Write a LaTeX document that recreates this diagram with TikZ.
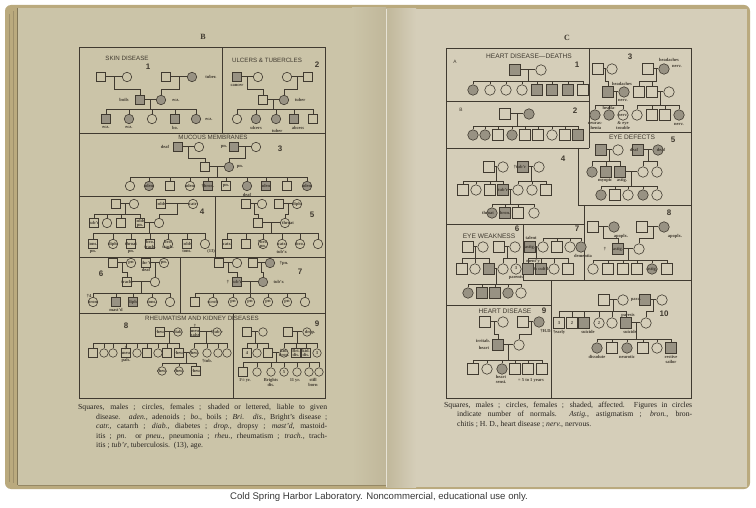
\documentclass[tikz,border=0pt]{standalone}
\usepackage{fontspec}
\setmainfont{Liberation Serif}
\setsansfont{Liberation Sans}
\usetikzlibrary{calc}
\definecolor{paperL}{RGB}{203,196,168}
\definecolor{paperR}{RGB}{213,206,185}
\definecolor{edgeC}{RGB}{186,170,126}
\definecolor{gutterC}{RGB}{192,183,154}
\definecolor{ink}{RGB}{64,58,48}
\definecolor{shadeC}{RGB}{152,146,131}
\definecolor{capink}{RGB}{40,36,32}
\tikzset{
 ln/.style={draw=ink, line width=0.6pt},
 mar/.style={draw=ink, line width=0.4pt, double=paperL, double distance=0.7pt},
 sq/.style={draw=ink, line width=0.6pt, fill=paperL, rectangle, minimum size=9.5pt, inner sep=0pt},
 ci/.style={draw=ink, line width=0.6pt, fill=paperL, circle, minimum size=9.5pt, inner sep=0pt},
 lbl/.style={font=\bfseries\fontsize{4.5}{4.8}\selectfont, text=ink, inner sep=0pt, align=center},
 ttl/.style={font=\sffamily\fontsize{6.2}{7}\selectfont, text=ink, inner sep=0pt},
 numtxt/.style={font=\sffamily\bfseries\fontsize{8}{9}\selectfont, text=ink, inner sep=0pt},
 frm/.style={draw=ink, line width=0.7pt},
 captxt/.style={font=\fontsize{7.7}{8}\selectfont, text=capink, inner sep=0pt, anchor=west},
}
\newcommand\Sq[3]{\node[sq] (#1) at (#2,#3) {};}
\newcommand\SQ[3]{\node[sq,fill=shadeC] (#1) at (#2,#3) {};}
\newcommand\Ci[3]{\node[ci] (#1) at (#2,#3) {};}
\newcommand\CI[3]{\node[ci,fill=shadeC] (#1) at (#2,#3) {};}
\newcommand\Lb[4]{\node[lbl] (#1) at (#2,#3) {#4};}
\newcommand\famline[4]{%
 \coordinate (#1#2y) at (0,#3);
 \coordinate (#1#2m) at ($(#1.east)!0.5!(#2.west)$);
 \draw[mar] (#1.east) -- (#2.west);
 \foreach \c in {#4}{\draw[ln] (#1#2m) |- (\c |- #1#2y) -- (\c.north);}
}
\newcommand\capline[5]{\node[captxt] (#1) at (#2,#3) {\makebox[#4pt][s]{#5}};}
\begin{document}
\begin{tikzpicture}[x=1pt,y=-1pt]
\useasboundingbox (0,0) rectangle (756,508);
\fill[white] (0,0) rectangle (756,508);
% ---------------- book ----------------
\fill[edgeC, rounded corners=6pt] (5,5) rectangle (750,489);
\fill[paperL] (18,8) rectangle (386,485);
\fill[paperR] (386,9) rectangle (747,487);
\shade[left color=paperL, right color=gutterC] (352,8) rectangle (386,485);
\shade[left color=gutterC, right color=paperR] (386,9) rectangle (416,487);
\draw[color=paperR!60!white, line width=0.6pt] (386,9) -- (386,487);
\draw[color=edgeC!70!black, line width=0.5pt] (17.5,8) -- (17.5,485);
\draw[color=edgeC!85!black, line width=0.3pt] (9,14) -- (9,482);
\draw[color=edgeC!85!black, line width=0.3pt] (13,11) -- (13,483);
\draw[color=edgeC!80!black, line width=0.5pt] (18,485) -- (386,485);
% ---------------- headings ----------------
\node[font=\bfseries\fontsize{8}{9}\selectfont, text=ink] (hB) at (203,37) {B};
\node[font=\bfseries\fontsize{8}{9}\selectfont, text=ink] (hC) at (567,38) {C};
% ---------------- left frame ----------------
\draw[frm] (79,47) rectangle (325,398);
\draw[frm] (222,48) -- (222,133);
\draw[frm] (79,133) -- (325,133);
\draw[frm] (79,196) -- (325,196);
\draw[frm] (215,196) -- (215,257);
\draw[frm] (79,257) -- (325,257);
\draw[frm] (180,257) -- (180,313);
\draw[frm] (79,313) -- (325,313);
\draw[frm] (233,313) -- (233,398);
% ---------------- right frame ----------------
\draw[frm] (446,48) rectangle (691,398);
\draw[frm] (589,48) -- (589,148);
\draw[frm] (446,101) -- (589,101);
\draw[frm] (446,148) -- (589,148);
\draw[frm] (589,132) -- (691,132);
\draw[frm] (578,148) -- (578,205) -- (691,205);
\draw[frm] (446,224) -- (584,224);
\draw[frm] (584,205) -- (584,280);
\draw[frm] (523,224) -- (523,280) -- (691,280);
\draw[frm] (551,280) -- (551,398);
\draw[frm] (446,305) -- (551,305);
% ---------------- titles and numbers ----------------
\node[ttl] (tt1) at (127,58) {SKIN DISEASE};
\node[ttl] (tt2) at (267,60) {ULCERS \& TUBERCLES};
\node[ttl] (tt3) at (213,137.5) {MUCOUS MEMBRANES};
\node[ttl] (tt4) at (202,318) {RHEUMATISM AND KIDNEY DISEASES};
\node[ttl,font=\sffamily\fontsize{6.6}{7}\selectfont] (tt5) at (529,56) {HEART DISEASE—DEATHS};
\node[ttl,font=\sffamily\fontsize{6.6}{7}\selectfont] (tt6) at (632,137.5) {EYE DEFECTS};
\node[ttl,font=\sffamily\fontsize{6.6}{7}\selectfont] (tt7) at (489,236) {EYE WEAKNESS};
\node[ttl,font=\sffamily\fontsize{6.6}{7}\selectfont] (tt8) at (505,311) {HEART DISEASE};
\node[ttl,font=\sffamily\fontsize{4.8}{5}\selectfont] (tA) at (455,62) {A};
\node[ttl,font=\sffamily\fontsize{4.8}{5}\selectfont] (tB) at (461,110) {B};
\node[numtxt] (n1) at (148,67) {1};
\node[numtxt] (n2) at (317,65) {2};
\node[numtxt] (n3) at (280,149) {3};
\node[numtxt] (n4) at (202,212) {4};
\node[numtxt] (n5) at (312,215) {5};
\node[numtxt] (n6) at (101,274) {6};
\node[numtxt] (n7) at (300,272) {7};
\node[numtxt] (n8) at (126,326) {8};
\node[numtxt] (n9) at (317,324) {9};
\node[numtxt] (r1) at (577,65) {1};
\node[numtxt] (r2) at (575,111) {2};
\node[numtxt] (r3) at (630,57) {3};
\node[numtxt] (r4) at (563,159) {4};
\node[numtxt] (r5) at (673,140) {5};
\node[numtxt] (r6) at (517,229) {6};
\node[numtxt] (r7) at (577,229) {7};
\node[numtxt] (r8) at (669,213) {8};
\node[numtxt] (r9) at (544,311) {9};
\node[numtxt] (r10) at (664,314) {10};
% ================= LEFT PAGE PEDIGREES =================
% --- 1 skin disease
\Sq{La1}{101}{77}\Ci{La2}{127}{77}\Sq{La3}{166}{77}\CI{La4}{192}{77}
\SQ{Lb1}{140}{100}\CI{Lb2}{161}{100}
\SQ{Lc1}{106}{119}\CI{Lc2}{129}{119}\Ci{Lc3}{152}{119}\SQ{Lc4}{175}{119}\CI{Lc5}{196}{119}
\famline{La1}{La2}{89}{Lb1}\famline{La3}{La4}{89}{Lb2}\famline{Lb1}{Lb2}{109}{Lc1,Lc2,Lc3,Lc4,Lc5}
\Lb{l1a}{211}{77}{tuber.}\Lb{l1b}{124}{100}{boils}\Lb{l1c}{176}{100}{ecz.}
\Lb{l1d}{106}{127.5}{ecz.}\Lb{l1e}{129}{127.5}{ecz.}\Lb{l1f}{175}{127.5}{bo.}\Lb{l1g}{209}{119}{ecz.}
% --- 2 ulcers
\SQ{Ld1}{237}{77}\Ci{Ld2}{258}{77}\Ci{Ld3}{287}{77}\Sq{Ld4}{308}{77}
\Sq{Le1}{263}{100}\CI{Le2}{284}{100}
\Ci{Lf1}{237}{119}\CI{Lf2}{256}{119}\CI{Lf3}{276}{119}\SQ{Lf4}{294}{119}\Sq{Lf5}{313}{119}
\famline{Ld1}{Ld2}{89}{Le1}\famline{Ld3}{Ld4}{89}{Le2}\famline{Le1}{Le2}{109}{Lf1,Lf2,Lf3,Lf4,Lf5}
\Lb{l2a}{237}{85}{cancer}\Lb{l2b}{300}{100}{tuber}\Lb{l2c}{256}{127.5}{ulcers}
\Lb{l2d}{277}{130.5}{tuber}\Lb{l2e}{298}{127.5}{abcess}
% --- 3 mucous membranes
\SQ{Lg1}{178}{147}\Ci{Lg2}{199}{147}\SQ{Lg3}{234}{147}\Ci{Lg4}{256}{147}
\Sq{Lh1}{205}{167}\CI{Lh2}{229}{167}
\Ci{Li1}{130}{186}\CI{Li2}{149}{186}\Sq{Li3}{170}{186}\Ci{Li4}{190}{186}\SQ{Li5}{208}{186}
\Sq{Li6}{226}{186}\CI{Li7}{247}{186}\SQ{Li8}{266}{186}\Sq{Li9}{287}{186}\CI{Li10}{307}{186}
\famline{Lg1}{Lg2}{158}{Lh1}\famline{Lg3}{Lg4}{158}{Lh2}
\famline{Lh1}{Lh2}{177}{Li1,Li2,Li3,Li4,Li5,Li6,Li7,Li8,Li9,Li10}
\Lb{l3a}{165}{147}{deaf}\Lb{l3b}{224}{147}{pn.}\Lb{l3c}{240}{167}{pn.}
\Lb{l3d}{149}{186}{aden.}\Lb{l3e}{190}{186}{aden.}\Lb{l3f}{208}{186}{†bron.}\Lb{l3g}{226}{186}{pn.}
\Lb{l3h}{247}{194.5}{deaf}\Lb{l3i}{266}{186}{aden.}\Lb{l3j}{307}{186}{aden.}
% --- 4
\Sq{Lj1}{116}{204}\Ci{Lj2}{134}{204}\Sq{Lj3}{161}{204}\Ci{Lj4}{193}{204}
\Sq{Lk1}{94}{223}\Ci{Lk2}{107}{223}\Sq{Lk3}{121}{223}\Sq{Lk4}{140}{223}\Ci{Lk5}{159}{223}
\Sq{Ll1}{93}{244}\Ci{Ll2}{113}{244}\Sq{Ll3}{131}{244}\Sq{Ll4}{150}{244}\Ci{Ll5}{168}{244}\Sq{Ll6}{187}{244}\Ci{Ll7}{205}{244}
\famline{Lj1}{Lj2}{214}{Lk1,Lk2,Lk3,Lk4}\famline{Lj3}{Lj4}{214}{Lk5}
\famline{Lk4}{Lk5}{233}{Ll1,Ll2,Ll3,Ll4,Ll5,Ll6,Ll7}
\Lb{l4a}{161}{204}{colds}\Lb{l4b}{193}{204}{catr}\Lb{l4c}{94}{223}{tub'r}
\Lb{l4d}{140}{221}{colds}\Lb{l4e}{140}{225.5}{pn.}
\Lb{l4f}{93}{244}{tons.}\Lb{l4g}{93}{251.5}{pn.}\Lb{l4h}{113}{244}{diph.}
\Lb{l4i}{131}{244}{throat}\Lb{l4j}{131}{251.5}{pn.}\Lb{l4k}{150}{242}{bro.}\Lb{l4l}{150}{246.5}{trach.}
\Lb{l4m}{168}{242}{bro.}\Lb{l4n}{168}{246.5}{trach.}\Lb{l4o}{187}{244}{colds}\Lb{l4p}{187}{251.5}{tons.}
\Lb{l4q}{211}{251}{(13)}
% --- 5
\Sq{Lm1}{246}{204}\Ci{Lm2}{262}{204}\Sq{Lm3}{279}{204}\Ci{Lm4}{297}{204}
\Sq{Ln1}{258}{223}\Ci{Ln2}{285}{223}
\Sq{Lo1}{227}{244}\Sq{Lo2}{246}{244}\Ci{Lo3}{263}{244}\Ci{Lo4}{282}{244}\Ci{Lo5}{300}{244}\Ci{Lo6}{318}{244}
\famline{Lm1}{Lm2}{214}{Ln1}\famline{Lm3}{Lm4}{214}{Ln2}
\famline{Ln1}{Ln2}{233}{Lo1,Lo2,Lo3,Lo4,Lo5,Lo6}
\Lb{l5a}{297}{204}{diph.}\Lb{l5b}{288}{223}{throat}\Lb{l5c}{227}{244}{catr.}
\Lb{l5d}{263}{242}{†bro.}\Lb{l5e}{263}{246.5}{pn.}\Lb{l5f}{282}{244}{catr.}\Lb{l5g}{282}{251.5}{tub'r.}
\Lb{l5h}{300}{244}{bro.}
% --- 6
\Sq{Lp1}{113}{263}\Ci{Lp2}{131}{263}\Sq{Lp3}{146}{263}\Ci{Lp4}{164}{263}
\Sq{Lq1}{127}{282}\Ci{Lq2}{155}{282}
\Ci{Lr1}{93}{302}\SQ{Lr2}{116}{302}\SQ{Lr3}{133}{302}\Ci{Lr4}{152}{302}\Ci{Lr5}{170}{302}
\famline{Lp1}{Lp2}{272}{Lq1}\famline{Lp3}{Lp4}{272}{Lq2}
\famline{Lq1}{Lq2}{293}{Lr1,Lr2,Lr3,Lr4,Lr5}
\Lb{l6a}{131}{263}{pn}\Lb{l6b}{146}{263}{thr't}\Lb{l6c}{146}{270}{deaf}\Lb{l6d}{164}{263}{pn.}
\Lb{l6e}{127}{282}{trach.}\Lb{l6f}{89}{296}{†4}\Lb{l6g}{93}{302}{bron.}\Lb{l6h}{116}{310}{mast'd}
\Lb{l6i}{133}{302}{diph.}\Lb{l6j}{152}{302}{tons.}
% --- 7
\Sq{Ls1}{219}{263}\Ci{Ls2}{237}{263}\Sq{Ls3}{253}{263}\CI{Ls4}{270}{263}
\SQ{Lt1}{237}{282}\CI{Lt2}{263}{282}
\Sq{Lu1}{195}{302}\Ci{Lu2}{213}{302}\Ci{Lu3}{233}{302}\Ci{Lu4}{250}{302}\Ci{Lu5}{268}{302}\Ci{Lu6}{287}{302}\Ci{Lu7}{305}{302}
\famline{Ls1}{Ls2}{272}{Lt1}\famline{Ls3}{Ls4}{272}{Lt2}
\famline{Lt1}{Lt2}{293}{Lu1,Lu2,Lu3,Lu4,Lu5,Lu6,Lu7}
\Lb{l7a}{284}{263}{†pn.}\Lb{l7b}{228}{282}{†}\Lb{l7c}{237}{282}{tub'r}\Lb{l7d}{279}{282}{tub'r.}
\Lb{l7e}{213}{302}{scrof.}\Lb{l7f}{233}{302}{pn}\Lb{l7g}{250}{302}{pn}\Lb{l7h}{268}{302}{pn}\Lb{l7i}{287}{302}{pn}
% --- 8 and 9 (smaller symbols)
\begin{scope}[sq/.append style={minimum size=8.5pt}, ci/.append style={minimum size=8.5pt}]
\Sq{Lv1}{160}{332}\Ci{Lv2}{178}{332}\Sq{Lv3}{195}{332}\Ci{Lv4}{217}{332}
\Sq{Lw1}{93}{353}\Ci{Lw2}{104}{353}\Ci{Lw3}{113}{353}\Sq{Lw4}{126}{353}\Ci{Lw5}{137}{353}\Sq{Lw6}{147}{353}
\Ci{Lw7}{158}{353}\Sq{Lw8}{167}{353}\Sq{Lw9}{179}{353}\Ci{Lw10}{194}{353}\Ci{Lw11}{207}{353}\Ci{Lw12}{218}{353}\Ci{Lw13}{227}{353}
\Ci{Lx1}{162}{371}\Ci{Lx2}{179}{371}\Sq{Lx3}{196}{371}
\famline{Lv1}{Lv2}{343}{Lw1,Lw2,Lw3,Lw4,Lw5,Lw6,Lw7,Lw8,Lw9}\famline{Lv3}{Lv4}{343}{Lw10,Lw11,Lw12,Lw13}
\famline{Lw9}{Lw10}{363}{Lx1,Lx2,Lx3}
\Lb{l8a}{160}{332}{rheu.}\Lb{l8b}{178}{332}{diab.}\Lb{l8c}{195}{326}{†}\Lb{l8d}{195}{331}{aneu.}\Lb{l8e}{195}{335}{palsy}
\Lb{l8f}{217}{332}{†tub'r}\Lb{l8g}{126}{348}{†}\Lb{l8h}{126}{353}{aneu.}\Lb{l8i}{126}{360.5}{pals.}
\Lb{l8j}{179}{353}{rheu.}\Lb{l8k}{194}{353}{rheu.}\Lb{l8l}{207}{361}{†tub.}
\Lb{l8m}{162}{371}{rheu.}\Lb{l8n}{179}{371}{rheu.}\Lb{l8o}{196}{371}{rheu.}
\Sq{Ly1}{247}{332}\Ci{Ly2}{263}{332}\Sq{Ly3}{288}{332}\Ci{Ly4}{307}{332}
\Sq{Lz1}{247}{353}\Ci{Lz2}{257}{353}\Sq{Lz3}{268}{353}\Ci{Lz4}{284}{353}\Sq{Lz5}{296}{353}\Sq{Lz6}{306}{353}\Ci{Lz7}{317}{353}
\Sq{Lza}{243}{372}\Ci{Lzb}{257}{372}\Ci{Lzc}{271}{372}\Ci{Lzd}{284}{372}\Ci{Lze}{297}{372}\Ci{Lzf}{309}{372}\Ci{Lzg}{319}{372}
\famline{Ly1}{Ly2}{343}{Lz1,Lz2,Lz3}\famline{Ly3}{Ly4}{343}{Lz4,Lz5,Lz6,Lz7}
\famline{Lz3}{Lz4}{362}{Lza,Lzb,Lzc,Lzd,Lze,Lzf,Lzg}
\Lb{l9a}{310}{332}{drop.}\Lb{l9b}{247}{353}{4}\Lb{l9c}{284}{351}{kid.}\Lb{l9d}{284}{355}{drop.}
\Lb{l9e}{296}{351}{Bri.}\Lb{l9f}{296}{355}{dis.}\Lb{l9g}{306}{351}{kid.}\Lb{l9h}{306}{355}{dis.}\Lb{l9i}{317}{353}{3}
\Lb{l9j}{245}{380}{1½ yr.}\Lb{l9k}{271}{380}{Brights}\Lb{l9l}{271}{385}{dis.}\Lb{l9m}{284}{372}{5}
\Lb{l9n}{295}{380}{11 yr.}\Lb{l9o}{313}{380}{still}\Lb{l9p}{313}{385}{born}
\end{scope}
% ================= RIGHT PAGE PEDIGREES =================
\begin{scope}[sq/.style={draw=ink, line width=0.6pt, fill=paperR, rectangle, minimum size=10.5pt, inner sep=0pt},
 ci/.style={draw=ink, line width=0.6pt, fill=paperR, circle, minimum size=10.5pt, inner sep=0pt},
 mar/.style={draw=ink, line width=0.4pt, double=paperR, double distance=0.7pt}]
% --- A1
\SQ{Ra1}{515}{70}\Ci{Ra2}{541}{70}
\CI{Rb1}{473}{90}\Ci{Rb2}{490}{90}\Ci{Rb3}{506}{90}\Ci{Rb4}{522}{90}\SQ{Rb5}{537}{90}\SQ{Rb6}{552}{90}\SQ{Rb7}{568}{90}\Sq{Rb8}{583}{90}
\famline{Ra1}{Ra2}{81}{Rb1,Rb2,Rb3,Rb4,Rb5,Rb6,Rb7,Rb8}
% --- B2
\Sq{Rc1}{505}{114}\CI{Rc2}{529}{114}
\CI{Rd1}{473}{135}\CI{Rd2}{485}{135}\Sq{Rd3}{498}{135}\CI{Rd4}{512}{135}\Sq{Rd5}{525}{135}\Sq{Rd6}{538}{135}\Ci{Rd7}{552}{135}\Sq{Rd8}{565}{135}\SQ{Rd9}{578}{135}
\famline{Rc1}{Rc2}{126}{Rd1,Rd2,Rd3,Rd4,Rd5,Rd6,Rd7,Rd8,Rd9}
% --- 3
\Sq{Re1}{598}{69}\Ci{Re2}{612}{69}\Sq{Re3}{648}{69}\CI{Re4}{664}{69}
\SQ{Rf1}{608}{92}\CI{Rf2}{624}{92}\Sq{Rf3}{639}{92}\Sq{Rf4}{652}{92}\Ci{Rf5}{669}{92}
\CI{Rg1}{595}{115}\CI{Rg2}{609}{115}\Ci{Rg3}{623}{115}\Ci{Rg4}{637}{115}\Sq{Rg5}{652}{115}\Sq{Rg6}{665}{115}\CI{Rg7}{679}{115}
\famline{Re1}{Re2}{81}{Rf1}\famline{Re3}{Re4}{81}{Rf3,Rf4}
\famline{Rf1}{Rf2}{105}{Rg1,Rg2,Rg3}\famline{Rf4}{Rf5}{105}{Rg4,Rg5,Rg6,Rg7}
\Lb{q3a}{669}{59.5}{headaches}\Lb{q3b}{677}{66.5}{nerv.}\Lb{q3c}{622}{84}{headaches}\Lb{q3d}{623}{100.5}{nerv.}
\Lb{q3e}{609}{108}{heada-}\Lb{q3f}{595}{123.5}{neuras-}\Lb{q3g}{595}{128}{thenia}
\Lb{q3h}{623}{115}{nerv.}\Lb{q3i}{623}{123.5}{\& eye}\Lb{q3j}{623}{128}{trouble}\Lb{q3k}{679}{124}{nerv.}
% --- 5 eye defects
\SQ{Rh1}{601}{150}\Ci{Rh2}{618}{150}\SQ{Rh3}{638}{150}\CI{Rh4}{658}{150}
\CI{Ri1}{592}{172}\SQ{Ri2}{606}{172}\SQ{Ri3}{620}{172}\Ci{Ri4}{643}{172}\Ci{Ri5}{657}{172}
\CI{Rj1}{601}{195}\Sq{Rj2}{615}{195}\Ci{Rj3}{628}{195}\CI{Rj4}{643}{195}\Ci{Rj5}{657}{195}
\famline{Rh1}{Rh2}{161}{Ri1,Ri2,Ri3}\famline{Rh3}{Rh4}{161}{Ri4,Ri5}
\famline{Ri3}{Ri4}{186}{Rj1,Rj2,Rj3,Rj4,Rj5}
\Lb{q5a}{634}{150}{deaf}\Lb{q5b}{661}{150}{deaf}\Lb{q5c}{605}{180.5}{myopic}\Lb{q5d}{622}{180.5}{astig.}
% --- 4
\Sq{Rk1}{489}{167}\Ci{Rk2}{503}{167}\SQ{Rk3}{523}{167}\Ci{Rk4}{539}{167}
\Sq{Rl1}{463}{190}\Ci{Rl2}{476}{190}\Sq{Rl3}{490}{190}\SQ{Rl4}{503}{190}\Ci{Rl5}{518}{190}\Ci{Rl6}{532}{190}\Sq{Rl7}{546}{190}
\CI{Rm1}{492}{213}\SQ{Rm2}{505}{213}\Sq{Rm3}{518}{213}\Ci{Rm4}{534}{213}
\famline{Rk1}{Rk2}{181}{Rl1,Rl2,Rl3,Rl4}\famline{Rk3}{Rk4}{181}{Rl5,Rl6,Rl7}
\famline{Rl4}{Rl5}{204}{Rm1,Rm2,Rm3,Rm4}
\Lb{q4a}{520}{167}{†tub'r}\Lb{q4b}{503}{190}{tub'r}\Lb{q4c}{488}{213}{throat}\Lb{q4d}{505}{213}{bron.}
% --- 6 eye weakness
\Sq{Rn1}{468}{247}\Ci{Rn2}{483}{247}\Sq{Rn3}{499}{247}\Ci{Rn4}{515}{247}
\Sq{Ro1}{462}{269}\Ci{Ro2}{475}{269}\SQ{Ro3}{489}{269}\Ci{Ro4}{503}{269}\Ci{Ro5}{516}{269}
\CI{Rp1}{468}{293}\SQ{Rp2}{482}{293}\SQ{Rp3}{495}{293}\CI{Rp4}{508}{293}\Ci{Rp5}{521}{293}
\famline{Rn1}{Rn2}{258}{Ro1,Ro2,Ro3}\famline{Rn3}{Rn4}{258}{Ro4,Ro5}
\famline{Ro3}{Ro4}{284}{Rp1,Rp2,Rp3,Rp4,Rp5}
\Lb{q6a}{516}{268.5}{3}\Lb{q6b}{516}{277.5}{parents}
% --- 7
\SQ{Rq1}{530}{247}\Ci{Rq2}{543}{247}\Sq{Rq3}{557}{247}\Ci{Rq4}{570}{247}\CI{Rq5}{581}{247}
\SQ{Rr1}{528}{269}\SQ{Rr2}{541}{269}\Ci{Rr3}{554}{269}\Sq{Rr4}{568}{269}
\coordinate (Rqt) at (0,238.5);
\draw[ln] (Rq2.north) |- (Rq5 |- Rqt) -- (Rq5.north);
\draw[ln] (Rq3.north) -- (Rq3 |- Rqt);
\draw[ln] (Rq4.north) -- (Rq4 |- Rqt);
\famline{Rq1}{Rq2}{258}{Rr1,Rr2,Rr3,Rr4}
\Lb{q7a}{531}{238}{talent}\Lb{q7b}{530}{247}{astig.}\Lb{q7c}{583}{256}{dementia}
\Lb{q7d}{533}{261.5}{ment'y}\Lb{q7e}{541}{269}{\& cult'l}
% --- 8
\Sq{Rs1}{593}{227}\CI{Rs2}{614}{227}\Sq{Rs3}{642}{227}\CI{Rs4}{664}{227}
\SQ{Rt1}{618}{249}\Ci{Rt2}{639}{249}
\Ci{Ru1}{593}{269}\Sq{Ru2}{608}{269}\Sq{Ru3}{623}{269}\Sq{Ru4}{637}{269}\CI{Ru5}{652}{269}\Sq{Ru6}{667}{269}
\famline{Rs1}{Rs2}{238}{Rt1}\famline{Rs3}{Rs4}{238}{Rt2}
\famline{Rt1}{Rt2}{260}{Ru1,Ru2,Ru3,Ru4,Ru5,Ru6}
\Lb{q8a}{621}{236}{apoplx.}\Lb{q8b}{675}{236}{apoplx.}\Lb{q8c}{605}{249}{†}\Lb{q8d}{618}{249}{astig.}
\Lb{q8e}{652}{269}{astig.}
% --- 9 heart disease
\Sq{Rv1}{485}{322}\Ci{Rv2}{503}{322}\Sq{Rv3}{523}{322}\CI{Rv4}{539}{322}
\SQ{Rw1}{498}{345}\Ci{Rw2}{519}{345}
\Sq{Rx1}{473}{369}\Ci{Rx2}{487}{369}\CI{Rx3}{502}{369}\Sq{Rx4}{515}{369}\Sq{Rx5}{528}{369}\Sq{Rx6}{542}{369}
\famline{Rv1}{Rv2}{334}{Rw1}\famline{Rv3}{Rv4}{334}{Rw2}
\famline{Rw1}{Rw2}{360}{Rx1,Rx2,Rx3,Rx4,Rx5,Rx6}
\Lb{q9a}{546}{331}{†H.D.}\Lb{q9b}{483}{341}{irritab.}\Lb{q9c}{484}{348}{heart}
\Lb{q9d}{501}{377}{heart}\Lb{q9e}{501}{381.5}{sensi.}\Lb{q9f}{531}{380.5}{= 5 to 1 years}
% --- 10
\Sq{Ry1}{604}{300}\Ci{Ry2}{623}{300}\SQ{Ry3}{645}{300}\Ci{Ry4}{662}{300}
\Sq{Rz1}{559}{323}\Sq{Rz2}{572}{323}\SQ{Rz3}{584}{323}\Ci{Rz4}{599}{323}\Ci{Rz5}{612}{323}\SQ{Rz6}{626}{323}\Ci{Rz7}{646}{323}
\CI{Rza}{597}{348}\Sq{Rzb}{612}{348}\CI{Rzc}{627}{348}\Sq{Rzd}{643}{348}\Ci{Rze}{657}{348}\SQ{Rzf}{671}{348}
\famline{Ry1}{Ry2}{311}{Rz1,Rz2,Rz3,Rz4,Rz5,Rz6}\famline{Ry3}{Ry4}{311}{Rz7}
\famline{Rz6}{Rz7}{339}{Rza,Rzb,Rzc,Rzd,Rze,Rzf}
\Lb{q10a}{636}{300}{para.}\Lb{q10b}{559}{323}{3}\Lb{q10c}{559}{332}{†early}\Lb{q10d}{572}{323}{2}
\Lb{q10e}{588}{332}{suicide}\Lb{q10f}{599}{323}{2}\Lb{q10g}{628}{315.5}{paresis}\Lb{q10h}{630}{332}{suicide}
\Lb{q10i}{597}{357}{dissolute}\Lb{q10j}{627}{357}{neurotic}\Lb{q10k}{671}{357}{restive}\Lb{q10l}{671}{362}{sailor}
\end{scope}
% ================= CAPTIONS =================
\capline{cl1}{78}{408}{249}{Squares, males ; circles, females ; shaded or lettered, liable to given}
\capline{cl2}{96}{417.5}{231}{disease. \textit{aden.}, adenoids ; \textit{bo.}, boils ; \textit{Bri. dis.}, Bright's disease ;}
\capline{cl3}{96}{427}{231}{\textit{catr.}, catarrh ; \textit{diab.}, diabetes ; \textit{drop.}, dropsy ; \textit{mast'd}, mastoid-}
\capline{cl4}{96}{436.5}{231}{itis ; \textit{pn.} or \textit{pneu.}, pneumonia ; \textit{rheu.}, rheumatism ; \textit{trach.}, trach-}
\node[captxt] (cl5) at (96,446) {itis ; \textit{tub'r}, tuberculosis.\ \ (13), age.};
\capline{cr1}{444}{406}{248}{Squares, males ; circles, females ; shaded, affected.\ \ Figures in circles}
\capline{cr2}{457}{415}{235}{indicate number of normals.\ \ \textit{Astig.}, astigmatism ; \textit{bron.}, bron-}
\node[captxt] (cr3) at (457,424) {chitis ; H. D., heart disease ; \textit{nerv.}, nervous.};
\node[font=\sffamily\fontsize{9.6}{11}\selectfont, text=black!78, inner sep=0pt] (csh) at (379,497) {Cold Spring Harbor Laboratory. Noncommercial, educational use only.};
\end{tikzpicture}
\end{document}
